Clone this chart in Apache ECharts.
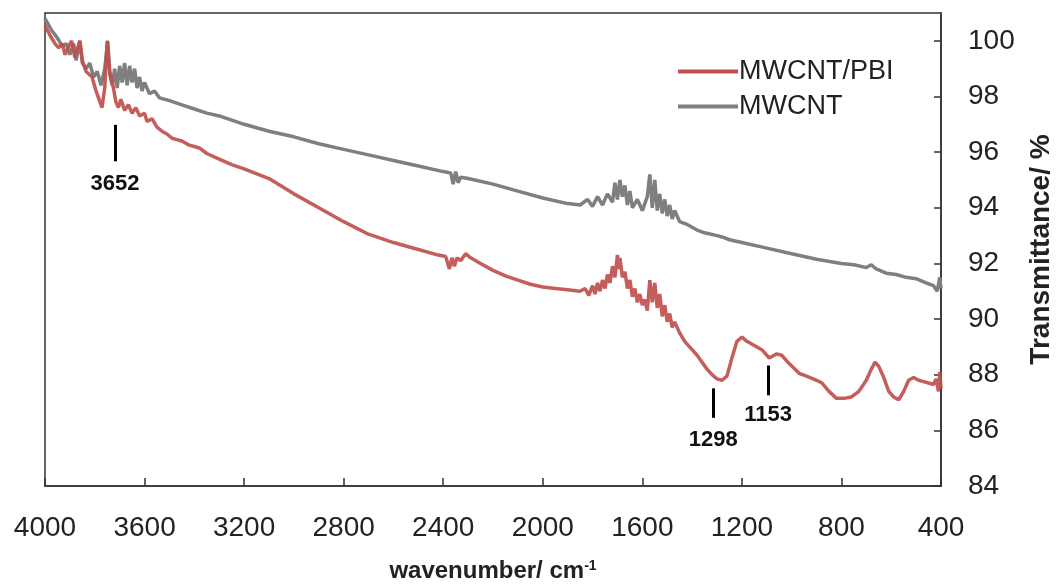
<!DOCTYPE html>
<html>
<head>
<meta charset="utf-8">
<script src="https://cdn.jsdelivr.net/npm/echarts@6/dist/echarts.min.js"></script>
<style>
  html, body { margin: 0; padding: 0; background: #fff; }
  #chart { width: 1063px; height: 588px; }
</style>
</head>
<body>
<div id="chart"></div>
<script>
// MWCNT/PBI spectrum (wavenumber, transmittance)
const pbiWave = [4000, 3980, 3960, 3945, 3930, 3920, 3905, 3893, 3880, 3870, 3860, 3850, 3835, 3811, 3795, 3771, 3760, 3750, 3740, 3727, 3715, 3705, 3695, 3680, 3665, 3650, 3635, 3620, 3600, 3590, 3570, 3550, 3530, 3510, 3490, 3470, 3450, 3420, 3400, 3380, 3350, 3300, 3250, 3200, 3100, 3000, 2900, 2800, 2700, 2600, 2500, 2420, 2390, 2375, 2365, 2355, 2345, 2330, 2310, 2290, 2250, 2200, 2150, 2100, 2050, 2000, 1950, 1900, 1850, 1830, 1815, 1800, 1790, 1780, 1770, 1760, 1750, 1740, 1730, 1720, 1710, 1700, 1695, 1690, 1680, 1670, 1660, 1650, 1640, 1630, 1620, 1610, 1600, 1590, 1580, 1570, 1560, 1550, 1540, 1530, 1520, 1510, 1500, 1490, 1480, 1470, 1450, 1430, 1400, 1380, 1360, 1340, 1320, 1300, 1280, 1260, 1240, 1220, 1200, 1180, 1150, 1120, 1090, 1060, 1040, 1010, 970, 940, 900, 878, 850, 820, 790, 760, 730, 700, 680, 665, 650, 630, 610, 590, 570, 550, 530, 510, 490, 470, 450, 430, 420, 410, 405, 400];
const pbiT = [100.55, 100.2, 99.9, 99.75, 99.9, 99.5, 99.8, 100.0, 99.4, 99.7, 100.0, 99.3, 98.9, 98.7, 98.2, 97.6, 98.3, 100.0, 98.9, 98.4, 97.8, 97.6, 97.9, 97.5, 97.7, 97.4, 97.6, 97.3, 97.4, 97.1, 97.2, 96.9, 96.75, 96.65, 96.5, 96.45, 96.4, 96.25, 96.2, 96.15, 95.95, 95.75, 95.55, 95.4, 95.05, 94.5, 94.0, 93.5, 93.05, 92.75, 92.5, 92.3, 92.25, 91.8, 92.2, 91.9, 92.2, 92.1, 92.35, 92.2, 92.0, 91.75, 91.55, 91.4, 91.25, 91.15, 91.1, 91.05, 91.0, 91.1, 90.85, 91.2, 90.9, 91.3, 91.0, 91.4, 91.1, 91.6, 91.3, 91.9, 91.5, 92.3, 91.8, 92.2, 91.5, 91.7, 91.1, 91.4, 90.8, 91.1, 90.6, 90.9, 90.5, 90.7, 90.3, 91.4, 90.6, 91.3, 90.4, 90.9, 90.1, 90.5, 89.9, 90.2, 89.7, 89.9, 89.5, 89.2, 88.9, 88.7, 88.45, 88.2, 88.0, 87.85, 87.8, 87.95, 88.6, 89.2, 89.35, 89.2, 89.05, 88.9, 88.6, 88.75, 88.7, 88.4, 88.05, 87.95, 87.8, 87.7, 87.4, 87.15, 87.15, 87.2, 87.4, 87.8, 88.2, 88.45, 88.3, 87.9, 87.4, 87.2, 87.1, 87.4, 87.8, 87.9, 87.8, 87.75, 87.7, 87.65, 87.85, 87.4, 88.1, 87.5];

// MWCNT spectrum
const cntWave = [4000, 3975, 3950, 3930, 3915, 3900, 3885, 3875, 3860, 3850, 3835, 3820, 3805, 3790, 3775, 3760, 3748, 3740, 3730, 3720, 3710, 3700, 3690, 3680, 3670, 3660, 3650, 3640, 3630, 3620, 3610, 3600, 3580, 3560, 3540, 3500, 3450, 3400, 3350, 3300, 3250, 3200, 3100, 3000, 2900, 2800, 2700, 2600, 2500, 2400, 2370, 2360, 2350, 2340, 2330, 2300, 2200, 2100, 2000, 1900, 1850, 1820, 1800, 1780, 1760, 1740, 1720, 1710, 1700, 1690, 1680, 1670, 1660, 1650, 1640, 1620, 1600, 1580, 1570, 1560, 1550, 1540, 1530, 1520, 1510, 1500, 1490, 1480, 1470, 1450, 1420, 1400, 1380, 1350, 1300, 1280, 1250, 1200, 1100, 1000, 900, 800, 750, 700, 680, 660, 620, 580, 540, 500, 460, 430, 415, 405, 400];
const cntT = [100.8, 100.4, 100.1, 99.8, 99.9, 99.5, 99.9, 99.3, 100.0, 99.2, 99.0, 99.2, 98.7, 98.9, 98.4, 99.0, 100.0, 98.8, 98.4, 99.0, 98.3, 99.1, 98.5, 99.2, 98.4, 99.1, 98.5, 99.0, 98.3, 98.7, 98.2, 98.5, 98.1, 98.2, 97.95, 97.85, 97.7, 97.55, 97.4, 97.3, 97.15, 97.0, 96.75, 96.55, 96.3, 96.1, 95.9, 95.7, 95.5, 95.3, 95.25, 94.85, 95.3, 94.9, 95.1, 95.05, 94.85, 94.6, 94.35, 94.15, 94.1, 94.3, 94.05, 94.4, 94.1, 94.5, 94.2, 94.9, 94.3, 95.0, 94.4, 94.8, 94.1, 94.6, 94.0, 94.3, 93.9, 94.4, 95.2, 94.0, 95.0, 93.9, 94.5, 93.8, 94.3, 93.7, 94.1, 93.6, 93.9, 93.5, 93.4, 93.3, 93.2, 93.1, 93.0, 92.95, 92.85, 92.75, 92.55, 92.35, 92.15, 92.0, 91.95, 91.85, 91.95, 91.8, 91.65, 91.6, 91.5, 91.45, 91.3, 91.2, 91.0, 91.5, 91.1];

// peak markers: label, wavenumber, line top, line bottom, label position
const peakNames = ['3652', '1298', '1153'];
const peakWave = [3719, 1315, 1095];
const peakTop = [96.98, 87.51, 88.33];
const peakBottom = [95.67, 86.45, 87.26];
const peakText = [94.85, 85.65, 86.55];

const xTicks = { min: 400, max: 4000, step: 400 };
const yTicks = { min: 84, max: 101, step: 2 };

const chart = echarts.init(document.getElementById('chart'));

const zip = (a, b) => a.map((v, i) => [v, b[i]]);
const font = 'Liberation Sans, Arial, sans-serif';

const option = {
  animation: false,
  grid: {
    left: 45,
    right: 120,
    top: 13,
    bottom: 93,
    show: true,
    borderColor: '#333',
    borderWidth: 1.5
  },
  legend: {
    data: ['MWCNT/PBI', 'MWCNT'],
    orient: 'vertical',
    left: 673,
    top: 53,
    itemWidth: 60,
    itemHeight: 4,
    itemGap: 8,
    icon: 'rect',
    textStyle: { fontFamily: font, fontSize: 27, color: '#222', padding: [0, 0, 0, -4] }
  },
  xAxis: {
    type: 'value',
    inverse: true,
    min: xTicks.min,
    max: xTicks.max,
    interval: xTicks.step,
    name: 'wavenumber/ cm{sup|-1}',
    nameLocation: 'middle',
    nameGap: 73,
    nameTextStyle: {
      fontFamily: font, fontSize: 24, fontWeight: 'bold', color: '#222',
      rich: { sup: { fontFamily: font, fontSize: 14, fontWeight: 'bold', color: '#222', verticalAlign: 'top', padding: [0, 0, 10, 0] } }
    },
    axisLine: { lineStyle: { color: '#333', width: 1.5 } },
    axisTick: { inside: true, length: 8, lineStyle: { color: '#333', width: 1.5 } },
    axisLabel: { fontFamily: font, fontSize: 28, color: '#222', margin: 28, formatter: v => String(v) },
    splitLine: { show: false }
  },
  yAxis: {
    type: 'value',
    position: 'right',
    min: yTicks.min,
    max: yTicks.max,
    interval: yTicks.step,
    name: 'Transmittance/ %',
    nameLocation: 'middle',
    nameRotate: 90,
    nameGap: 86,
    nameTextStyle: { fontFamily: font, fontSize: 28, fontWeight: 'bold', color: '#222' },
    axisLine: { show: true, lineStyle: { color: '#333', width: 1.5 } },
    axisTick: { show: true, inside: true, length: 7, lineStyle: { color: '#333', width: 1.5 } },
    axisLabel: { fontFamily: font, fontSize: 28, color: '#222', margin: 27, showMaxLabel: false, formatter: v => String(v) },
    splitLine: { show: false }
  },
  series: [
    {
      name: 'MWCNT/PBI',
      type: 'line',
      data: zip(pbiWave, pbiT),
      showSymbol: false,
      z: 3,
      color: '#c0504d',
      lineStyle: { color: '#c0504d', width: 3.5, opacity: 0.92 },
      markLine: {
        silent: true,
        symbol: 'none',
        label: { show: false },
        lineStyle: { color: '#000', width: 3, type: 'solid' },
        data: peakNames.map((n, i) => [
          { coord: [peakWave[i], peakTop[i]] },
          { coord: [peakWave[i], peakBottom[i]] }
        ])
      },
      markPoint: {
        silent: true,
        symbol: 'circle',
        symbolSize: 1,
        itemStyle: { color: 'transparent' },
        label: {
          show: true,
          position: 'inside',
          formatter: '{b}',
          fontFamily: font,
          fontSize: 22,
          fontWeight: 'bold',
          color: '#111'
        },
        data: peakNames.map((n, i) => ({ name: n, coord: [peakWave[i], peakText[i]] }))
      }
    },
    {
      name: 'MWCNT',
      type: 'line',
      data: zip(cntWave, cntT),
      showSymbol: false,
      z: 2,
      color: '#7f7f7f',
      lineStyle: { color: '#7f7f7f', width: 3.5 }
    }
  ]
};

chart.setOption(option);
</script>
</body>
</html>
